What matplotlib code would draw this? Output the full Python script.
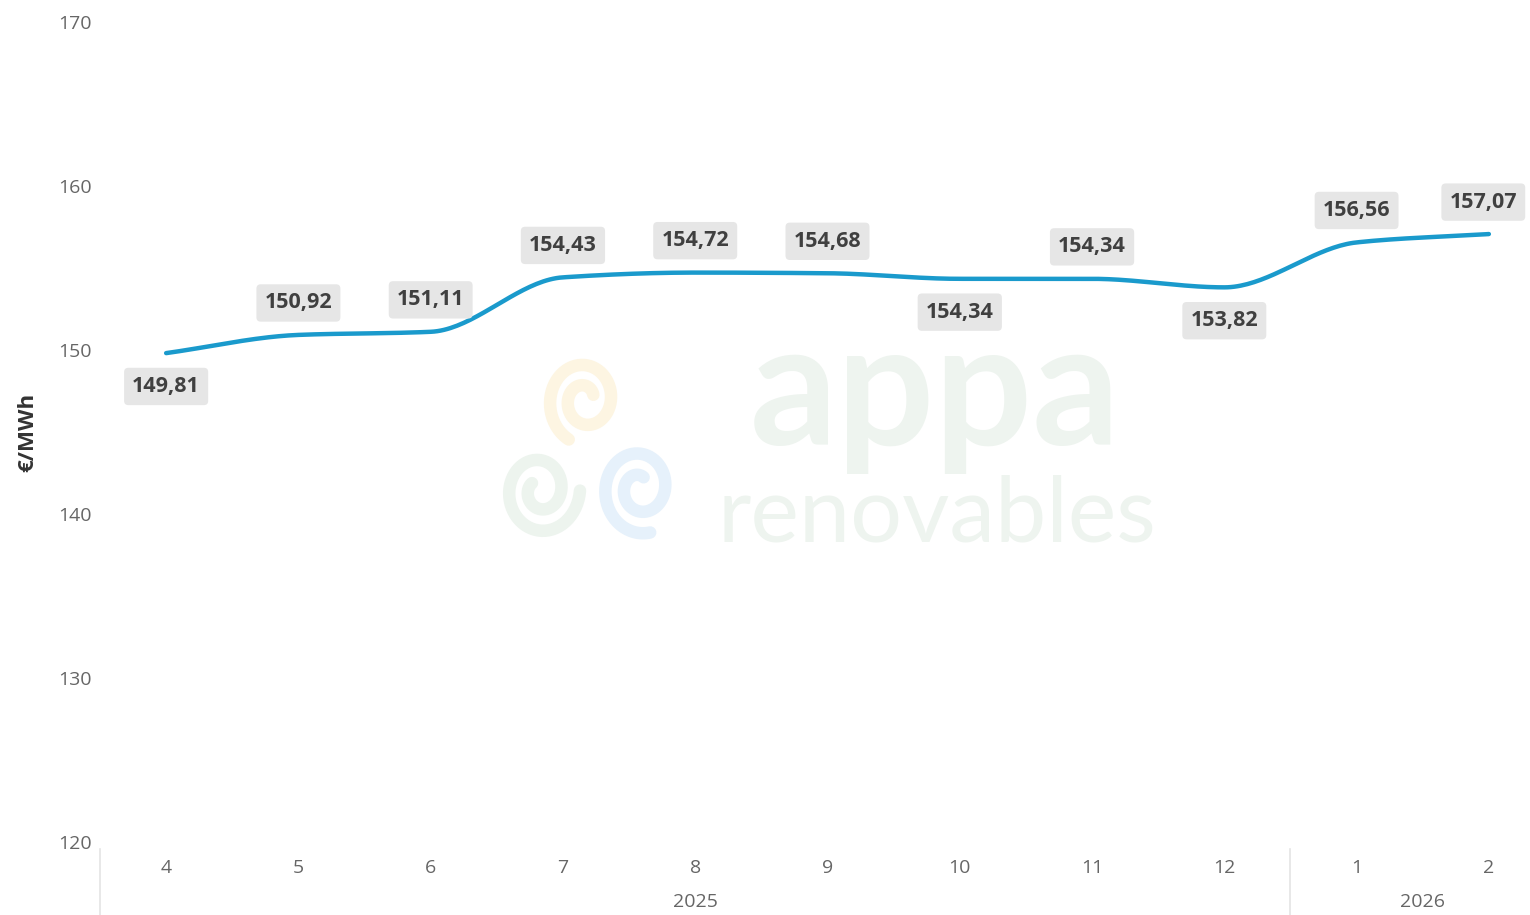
import matplotlib
matplotlib.use("Agg")
import matplotlib.pyplot as plt
import numpy as np

# monthly values, Apr 2025 - Feb 2026
months = ["4", "5", "6", "7", "8", "9", "10", "11", "12", "1", "2"]
years = ["2025", "2026"]
year_sizes = [9, 2]
values = [149.81, 150.92, 151.11, 154.43, 154.72, 154.68, 154.34, 154.34, 153.82, 156.56, 157.07]
label_above = [False, True, True, True, True, True, False, True, False, True, True]

LINE = "#1a9acc"
TICK = "#666666"
AX_W, AX_H = 1455, 820  # axes size in pixels


def smooth_curve(x, y, n=40):
    # monotone cubic hermite, just for drawing the line smoothly
    x = np.asarray(x, float)
    y = np.asarray(y, float)
    h = np.diff(x)
    d = np.diff(y) / h
    m = np.zeros_like(y)
    m[0], m[-1] = d[0], d[-1]
    for i in range(1, len(y) - 1):
        if d[i - 1] * d[i] <= 0:
            m[i] = 0.0
        else:
            m[i] = 2.0 / (1.0 / d[i - 1] + 1.0 / d[i])
    xs, ys = [], []
    for i in range(len(x) - 1):
        t = np.linspace(0, 1, n, endpoint=False)
        h00 = 2 * t**3 - 3 * t**2 + 1
        h10 = t**3 - 2 * t**2 + t
        h01 = -2 * t**3 + 3 * t**2
        h11 = t**3 - t**2
        xs.append(x[i] + t * h[i])
        ys.append(h00 * y[i] + h10 * h[i] * m[i] + h01 * y[i + 1] + h11 * h[i] * m[i + 1])
    xs.append([x[-1]])
    ys.append([y[-1]])
    return np.concatenate(xs), np.concatenate(ys)


def swirl(ax, cx, cy, r, color, rot=0.0):
    # faint logo spiral, centre given in pixels of the axes
    th = np.linspace(0, 3.2 * np.pi, 200)
    rr = r * (0.25 + 0.75 * th / th[-1])
    px = cx + rr * np.cos(th + rot)
    py = cy + rr * np.sin(th + rot) * 1.15
    ax.plot(px / AX_W, py / AX_H, transform=ax.transAxes, color=color, lw=9,
            solid_capstyle="round", zorder=0)


fig = plt.figure(figsize=(15.3, 9.15), dpi=100)
ax = fig.add_axes([100 / 1530, 73 / 915, AX_W / 1530, AX_H / 915])

x = np.arange(len(values))

# faint watermark
ax.text(0.574, 0.545, "appa", transform=ax.transAxes, ha="center", va="center",
        fontsize=124, color="#eef4ef", family="Lato", fontweight="bold", zorder=0)
ax.text(0.575, 0.398, "renovables", transform=ax.transAxes, ha="center", va="center",
        fontsize=66, color="#eef4ef", family="Lato", zorder=0)
swirl(ax, 485, 442, 38, "#fdf5e2", rot=0.5)
swirl(ax, 440, 352, 40, "#edf4ee", rot=2.5)
swirl(ax, 540, 354, 40, "#e6f1fb", rot=1.2)

sx, sy = smooth_curve(x, values)
ax.plot(sx, sy, color=LINE, lw=3.2, solid_capstyle="round", zorder=3)

for i, v in enumerate(values):
    dy = 23 if label_above[i] else -24
    dx = -4 if i == len(values) - 1 else 0
    ax.annotate(f"{v:.2f}".replace(".", ","), (x[i], v), xytext=(dx, dy),
                textcoords="offset points", ha="center", va="center",
                fontsize=15.5, fontweight="bold", family="Open Sans", color="#404040",
                bbox=dict(boxstyle="round,pad=0.38,rounding_size=0.2", fc="#e6e6e6", ec="none"),
                zorder=4, annotation_clip=False)

ax.set_xlim(-0.5, len(values) - 0.5)
ax.set_ylim(120, 170)
ax.set_yticks([120, 130, 140, 150, 160, 170])
ax.set_xticks(x)
ax.set_xticklabels(months)
for s in ax.spines.values():
    s.set_visible(False)
ax.tick_params(axis="both", length=0, labelsize=14, labelcolor=TICK)
ax.tick_params(axis="x", pad=12)
ax.tick_params(axis="y", pad=6)
for lab in ax.get_xticklabels() + ax.get_yticklabels():
    lab.set_family("Open Sans")

ax.set_ylabel("€/MWh", fontsize=16, fontweight="bold", family="Open Sans",
              color="#333333", labelpad=14)

# year groups with separators below the axis
start = 0
trans = ax.get_xaxis_transform()
for yr, size in zip(years, year_sizes):
    left = start - 0.5
    right = start + size - 0.5
    ax.plot([left, left], [-0.008, -0.1], transform=trans, color="#e4e4e4", lw=1.2,
            clip_on=False)
    ax.text((left + right) / 2, -0.073, yr, transform=trans, ha="center", va="center",
            fontsize=14, color=TICK, family="Open Sans")
    start += size

fig.savefig("out.png", dpi=100)
